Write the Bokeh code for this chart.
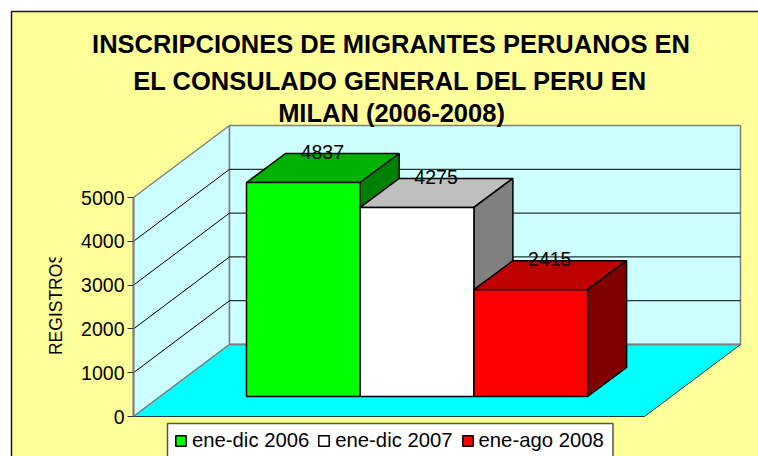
from bokeh.embed import file_html
from bokeh.resources import INLINE
from bokeh.plotting import figure
from bokeh.models import Range1d, LinearAxis, FixedTicker, Legend, LegendItem
from bokeh.core.properties import value
import math

# ---- data ----
TITLE_LINES = ["INSCRIPCIONES DE MIGRANTES PERUANOS EN",
               "EL CONSULADO GENERAL DEL PERU EN",
               "MILAN (2006-2008)"]
SERIES = ["ene-dic 2006", "ene-dic 2007", "ene-ago 2008"]
VALUES = [4837, 4275, 2415]
TICKS = [0, 1000, 2000, 3000, 4000, 5000]
AXIS_TITLE = "REGISTROS"
FRONT = ["#00FF00", "#FFFFFF", "#FF0000"]
TOP = ["#00B200", "#BFBFBF", "#BF0000"]
SIDE = ["#008000", "#808080", "#800000"]

# ---- layout: x data = page pixel; y data = chart value ----
Y0 = 416
U = 5000 / 219            # value units per pixel
def up(px):               # vertical pixels as value units
    return px * U
def py(px):               # page pixel row as a value
    return (Y0 - px) * U

LEFT, WIDTH, DX, DY = 133, 511, 96, 72
BAR_X0, BAR_W, BAR_LIFT, BAR_DX, BAR_DY = 246, 113.7, 20, 39, 29
BAR_SCALE = 1.01
FONT = value("Liberation Sans")
FS = "19.5px"

p = figure(width=758, height=456, x_range=Range1d(0, 758), y_range=Range1d(py(456), py(0)),
           output_backend="svg", toolbar_location=None, min_border=0,
           background_fill_color="#FFFFFF", border_fill_color="#FFFFFF",
           outline_line_color=None, x_axis_type=None, y_axis_type=None)
p.grid.visible = False

# chart area
p.quad(left=[11], right=[790], top=[py(11)], bottom=[py(490)],
       fill_color="#FFFF99", line_color="#1A1A1A", line_width=1.5)

vmax = TICKS[-1]
GRAY = "#808080"
# left wall, back wall, floor
p.patch([LEFT, LEFT + DX, LEFT + DX, LEFT], [0, up(DY), vmax + up(DY), vmax],
        fill_color="#CCFFFF", line_color=GRAY, line_width=1.5)
p.patch([LEFT + DX, LEFT + DX + WIDTH, LEFT + DX + WIDTH, LEFT + DX],
        [up(DY), up(DY), vmax + up(DY), vmax + up(DY)],
        fill_color="#CCFFFF", line_color=GRAY, line_width=1.5)
p.patch([LEFT, LEFT + DX, LEFT + DX + WIDTH, LEFT + WIDTH], [0, up(DY), up(DY), 0],
        fill_color="#00FFFF", line_color=None)
p.line([LEFT + DX, LEFT + DX + WIDTH], [up(DY), up(DY)], line_color=GRAY, line_width=2)
p.line([LEFT, LEFT + DX], [0, up(DY)], line_color=GRAY, line_width=1.5)
p.line([LEFT + DX + WIDTH, LEFT + WIDTH, LEFT], [up(DY), 0, 0], line_color="#204040", line_width=1)

# gridlines
gx, gy = [], []
for t in TICKS[1:-1]:
    gx.append([LEFT, LEFT + DX, LEFT + DX + WIDTH])
    gy.append([t, t + up(DY), t + up(DY)])
p.multi_line(gx, gy, line_color="#000000", line_width=1)

# bars
EDGE = dict(line_color="#000000", line_width=1.5)
renderers = []
lx, ly = [], []
for i, v in enumerate(VALUES):
    x0 = BAR_X0 + i * BAR_W
    x1 = x0 + BAR_W
    b = up(BAR_LIFT)
    t = v * BAR_SCALE + b
    d = up(BAR_DY)
    p.patch([x0, x0 + BAR_DX, x1 + BAR_DX, x1], [t, t + d, t + d, t], fill_color=TOP[i], **EDGE)
    p.patch([x1, x1 + BAR_DX, x1 + BAR_DX, x1], [b, b + d, t + d, t], fill_color=SIDE[i], **EDGE)
    r = p.quad(left=[x0], right=[x1], bottom=[b], top=[t], fill_color=FRONT[i], **EDGE)
    renderers.append(r)
    lx.append((x0 + x1) / 2 + BAR_DX / 2 - 0.5)
    ly.append(t + d + up(1.5))

# data labels
p.text(lx, ly, text=[str(v) for v in VALUES], text_font=FONT, text_font_size=FS,
       text_align="center", text_baseline="middle", text_color="#000000")

# title
p.text([390.5, 390, 391], [py(43), py(80), py(112)], text=TITLE_LINES, text_font=FONT,
       text_font_size="25.5px", text_font_style="bold", text_align="center",
       text_baseline="middle", text_color="#000000")

# axis title, its last letter cut off as in the original
p.text([55], [py(303)], text=[AXIS_TITLE], angle=math.pi / 2, text_font=FONT,
       text_font_size="17.5px", text_align="center", text_baseline="middle",
       text_color="#000000")
p.quad(left=[44], right=[70], top=[py(240)], bottom=[py(257)], fill_color="#FFFF99", line_color=None)

# legend frame
p.quad(left=[167], right=[612.5], top=[py(423)], bottom=[py(470)],
       fill_color="#FFFFFF", line_color="#555555", line_width=1.5)

# axis
ax = LinearAxis(fixed_location=LEFT, bounds=(0, vmax), ticker=FixedTicker(ticks=TICKS))
ax.axis_line_color = GRAY
ax.axis_line_width = 2
ax.major_tick_line_color = "#333333"
ax.major_tick_out = 6
ax.major_tick_in = 0
ax.minor_tick_line_color = None
ax.major_label_text_font = "Liberation Sans"
ax.major_label_text_font_size = FS
ax.major_label_text_color = "#000000"
ax.major_label_standoff = 3
p.add_layout(ax, "left")

# legend
legend = Legend(items=[LegendItem(label=s, renderers=[r]) for s, r in zip(SERIES, renderers)],
                orientation="horizontal", location=(174, 4),
                label_text_font="Liberation Sans", label_text_font_size="20.3px",
                label_text_color="#000000", glyph_width=13, glyph_height=13,
                label_standoff=5, spacing=8, padding=8, margin=0,
                border_line_color=None, background_fill_alpha=0)
p.add_layout(legend, "center")

open("out.html", "w").write(file_html(p, INLINE))
